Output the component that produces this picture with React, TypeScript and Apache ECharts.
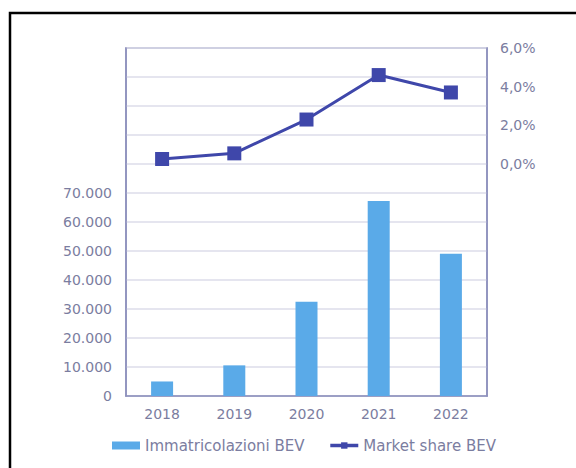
import React, { useEffect, useRef } from "react";
import * as echarts from "echarts";

const years = ["2018", "2019", "2020", "2021", "2022"];
const registrations = [5010, 10566, 32538, 67255, 49079];
const marketShare = [0.26, 0.55, 2.3, 4.6, 3.7];

const textColor = "#7B7DA0";
const font = "'DejaVu Sans', sans-serif";

function fmtThousands(v: number): string {
  return String(Math.round(v)).replace(/\B(?=(\d{3})+(?!\d))/g, ".");
}

export default function App() {
  const ref = useRef<HTMLDivElement>(null);
  useEffect(() => {
    document.body.style.margin = "0";
    const chart = echarts.init(ref.current!, null, { renderer: "svg" });
    chart.setOption({
      animation: false,
      backgroundColor: "#ffffff",
      graphic: [
        {
          type: "rect",
          shape: { x: 10, y: 13, width: 700, height: 600 },
          style: { fill: "none", stroke: "#000000", lineWidth: 2.5 },
          silent: true,
        },
      ],
      grid: {
        left: 126,
        right: 89,
        top: 48,
        bottom: 72,
        show: true,
        borderColor: "#8C8FBC",
        borderWidth: 1.5,
      },
      legend: {
        left: 107,
        top: 433,
        itemWidth: 28,
        itemHeight: 8,
        itemGap: 24,
        textStyle: { color: textColor, fontSize: 15, fontFamily: font },
        data: [
          { name: "Immatricolazioni BEV", icon: "rect" },
          { name: "Market share BEV", lineStyle: { width: 3.5 } },
        ],
      },
      xAxis: {
        type: "category",
        data: years,
        axisTick: { show: false },
        axisLine: { lineStyle: { color: "#8C8FBC", width: 1.5 } },
        axisLabel: { color: textColor, fontSize: 14, fontFamily: font, margin: 11 },
      },
      yAxis: [
        {
          type: "value",
          min: 0,
          max: 120000,
          interval: 10000,
          axisLine: { show: true, lineStyle: { color: "#8C8FBC", width: 1.5 } },
          axisTick: { show: false },
          splitLine: { lineStyle: { color: "#DCDDEA", width: 1.5 } },
          axisLabel: {
            color: textColor,
            fontSize: 14,
            fontFamily: font,
            margin: 14,
            formatter: (v: number) => (v <= 70000 ? fmtThousands(v) : ""),
          },
        },
        {
          type: "value",
          min: -12,
          max: 6,
          interval: 2,
          position: "right",
          axisLine: { show: true, lineStyle: { color: "#8C8FBC", width: 1.5 } },
          axisTick: { show: false },
          splitLine: { show: false },
          axisLabel: {
            color: textColor,
            fontSize: 14,
            fontFamily: font,
            margin: 13,
            formatter: (v: number) =>
              v >= 0 ? v.toFixed(1).replace(".", ",") + "%" : "",
          },
        },
      ],
      series: [
        {
          name: "Immatricolazioni BEV",
          type: "bar",
          data: registrations,
          barWidth: 22,
          itemStyle: { color: "#5AAAE8" },
        },
        {
          name: "Market share BEV",
          type: "line",
          yAxisIndex: 1,
          data: marketShare,
          symbol: "rect",
          symbolSize: 14,
          lineStyle: { color: "#3F47AA", width: 3 },
          itemStyle: { color: "#3F47AA" },
        },
      ],
    });
    return () => chart.dispose();
  }, []);
  return <div ref={ref} style={{ width: 576, height: 468 }} />;
}
